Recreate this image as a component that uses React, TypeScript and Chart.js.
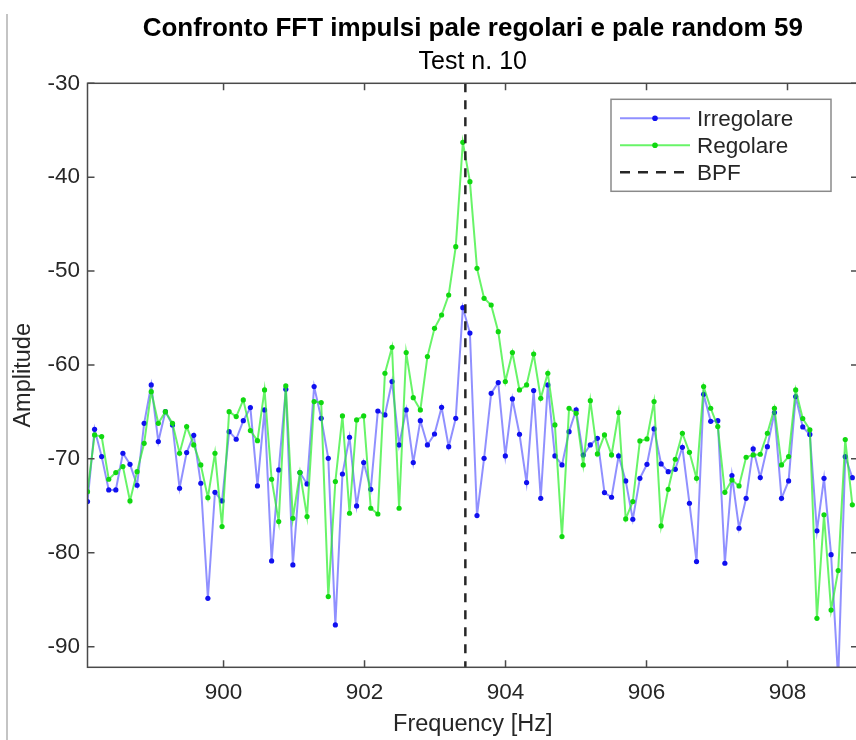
import React, { useEffect, useRef } from 'react';
import { Chart, registerables } from 'chart.js';

Chart.register(...registerables);

// ---- data -----------------------------------------------------------------
const TITLE = 'Confronto FFT impulsi pale regolari e pale random 59';
const SUBTITLE = 'Test n. 10';
const X_LABEL = 'Frequency [Hz]';
const Y_LABEL = 'Amplitude';
const SERIES_NAMES = ['Irregolare', 'Regolare', 'BPF'];

// FFT bin grid (start frequency and bin width)
const FREQ_START = 898.07;
const FREQ_STEP = 0.10046;

const IRREGOLARE = [
  -74.55, -66.85, -69.76, -73.31, -73.31, -69.4, -70.58, -72.81, -66.21, -62.13,
  -68.16, -64.97, -66.39, -73.13, -69.33, -67.49, -72.6, -84.85, -73.56, -74.48,
  -67.1, -67.91, -65.93, -64.54, -72.88, -64.79, -80.87, -71.18, -62.59, -81.3,
  -71.46, -72.67, -62.3, -65.68, -69.94, -87.69, -71.61, -67.7, -75.01, -70.4,
  -73.24, -64.9, -65.32, -61.77, -68.52, -64.79, -70.4, -65.93, -68.52, -67.35,
  -64.51, -68.7, -65.68, -53.9, -56.6, -76.04, -69.94, -63.02, -61.88, -69.69,
  -63.62, -67.38, -72.53, -62.73, -74.2, -62.13, -69.69, -70.65, -67.1, -64.79,
  -69.6, -68.52, -67.81, -73.59, -74.09, -69.69, -72.35, -76.43, -72.07, -70.58,
  -66.81, -70.54, -71.36, -71.11, -68.77, -74.73, -80.94, -63.12, -66.0, -65.93,
  -81.12, -71.78, -77.39, -74.2, -68.94, -71.99, -68.7, -65.07, -74.2, -72.35,
  -63.37, -66.6, -67.4, -77.66, -72.07, -80.2, -93.5, -69.77, -72.0,
];

const REGOLARE = [
  -73.49, -67.45, -67.63, -72.17, -71.46, -70.82, -74.48, -71.36, -68.34, -62.84,
  -66.21, -64.97, -66.21, -69.4, -66.56, -68.52, -70.65, -74.13, -69.4, -77.21,
  -64.97, -65.5, -63.72, -66.99, -68.06, -62.66, -72.17, -76.68, -62.23, -76.33,
  -71.46, -76.15, -63.9, -64.01, -84.67, -72.42, -65.43, -75.79, -65.85, -65.43,
  -75.26, -75.87, -60.88, -58.12, -75.26, -58.68, -63.48, -64.79, -59.11, -56.1,
  -54.68, -52.55, -47.4, -36.29, -40.48, -49.71, -52.9, -53.61, -56.45, -61.77,
  -58.68, -62.66, -62.13, -58.83, -63.55, -60.88, -66.39, -78.28, -64.61, -65.14,
  -70.65, -63.8, -69.47, -67.45, -69.58, -65.07, -76.4, -74.55, -68.09, -67.88,
  -63.9, -77.14, -73.24, -70.04, -67.27, -69.3, -72.07, -62.3, -64.61, -66.56,
  -73.56, -72.25, -72.88, -69.83, -69.58, -69.51, -67.27, -64.61, -70.65, -69.76,
  -62.66, -65.7, -66.9, -86.98, -75.95, -86.1, -81.9, -67.95, -74.9,
];

const BPF = 903.43;

const X_MIN = 898.07;
const X_MAX = 909.0;
const Y_MIN = -92.2;
const Y_MAX = -30;
const X_TICKS = [900, 902, 904, 906, 908];
const Y_TICKS = [-30, -40, -50, -60, -70, -80, -90];

// ---- styles ---------------------------------------------------------------
const FONT = '"Liberation Sans", Arial, Helvetica, sans-serif';
const TEXT_COLOR = '#262626';
const AXIS_COLOR = '#4a4a4a';
const BLUE_LINE = 'rgba(70, 70, 255, 0.6)';
const BLUE_MARK = '#1010f0';
const GREEN_LINE = 'rgba(40, 240, 40, 0.7)';
const GREEN_MARK = '#10d810';
const BPF_COLOR = '#262626';

const W = 856;
const H = 740;
const CANVAS_W = 862; // the axes box extends just past the visible frame

const framePlugin = {
  id: 'matlabFrame',
  afterDraw(chart: any) {
    const { ctx, chartArea, scales } = chart;
    const { left, right, top, bottom } = chartArea;
    const xs = scales.x;
    const ys = scales.y;
    ctx.save();
    // axes box
    ctx.strokeStyle = AXIS_COLOR;
    ctx.lineWidth = 1.5;
    ctx.strokeRect(left, top, right - left, bottom - top);
    // inward ticks on all four sides
    const tl = 7;
    ctx.beginPath();
    for (const v of X_TICKS) {
      const px = xs.getPixelForValue(v);
      ctx.moveTo(px, bottom);
      ctx.lineTo(px, bottom - tl);
      ctx.moveTo(px, top);
      ctx.lineTo(px, top + tl);
    }
    for (const v of Y_TICKS) {
      const py = ys.getPixelForValue(v);
      ctx.moveTo(left, py);
      ctx.lineTo(left + tl, py);
      ctx.moveTo(right, py);
      ctx.lineTo(right - tl, py);
    }
    ctx.stroke();

    // legend (north-east)
    const boxW = 220;
    const boxH = 92;
    const bx = right - 27 - boxW;
    const by = top + 16;
    ctx.fillStyle = '#ffffff';
    ctx.fillRect(bx, by, boxW, boxH);
    ctx.strokeStyle = '#8a8a8a';
    ctx.lineWidth = 1.5;
    ctx.strokeRect(bx, by, boxW, boxH);
    const rows = [by + 19, by + 46, by + 73];
    const x0 = bx + 9;
    const x1 = bx + 79;
    const xm = (x0 + x1) / 2;
    const entries = [
      { line: BLUE_LINE, mark: BLUE_MARK, dash: [] as number[] },
      { line: GREEN_LINE, mark: GREEN_MARK, dash: [] as number[] },
      { line: BPF_COLOR, mark: null, dash: [10, 8] },
    ];
    entries.forEach((e, i) => {
      const yy = rows[i];
      ctx.beginPath();
      ctx.setLineDash(e.dash);
      ctx.strokeStyle = e.line;
      ctx.lineWidth = e.mark ? 2 : 2.5;
      ctx.moveTo(x0, yy);
      ctx.lineTo(x1, yy);
      ctx.stroke();
      ctx.setLineDash([]);
      if (e.mark) {
        ctx.beginPath();
        ctx.fillStyle = e.mark;
        ctx.arc(xm, yy, 2.8, 0, Math.PI * 2);
        ctx.fill();
      }
      ctx.fillStyle = TEXT_COLOR;
      ctx.font = `22.5px ${FONT}`;
      ctx.textAlign = 'left';
      ctx.textBaseline = 'middle';
      ctx.fillText(SERIES_NAMES[i], bx + 86, yy + 1);
    });
    ctx.restore();
  },
};

export default function App() {
  const canvasRef = useRef<HTMLCanvasElement | null>(null);

  useEffect(() => {
    const canvas = canvasRef.current;
    if (!canvas) return;
    const freq = IRREGOLARE.map((_, i) => FREQ_START + i * FREQ_STEP);
    const chart = new Chart(canvas, {
      type: 'line',
      data: {
        datasets: [
          {
            label: SERIES_NAMES[2],
            data: [
              { x: BPF, y: Y_MAX },
              { x: BPF, y: Y_MIN },
            ],
            borderColor: BPF_COLOR,
            borderWidth: 2.5,
            borderDash: [9, 8],
            pointRadius: 0,
            order: 0,
            clip: 0,
          } as any,
          {
            label: SERIES_NAMES[1],
            data: REGOLARE.map((v, i) => ({ x: freq[i], y: v })),
            borderColor: GREEN_LINE,
            borderWidth: 2,
            pointRadius: 2.6,
            pointBorderWidth: 0,
            pointBackgroundColor: GREEN_MARK,
            tension: 0,
            order: 1,
            clip: 0,
          } as any,
          {
            label: SERIES_NAMES[0],
            data: IRREGOLARE.map((v, i) => ({ x: freq[i], y: v })),
            borderColor: BLUE_LINE,
            borderWidth: 2,
            pointRadius: 2.6,
            pointBorderWidth: 0,
            pointBackgroundColor: BLUE_MARK,
            tension: 0,
            order: 2,
            clip: 0,
          } as any,
        ],
      },
      options: {
        responsive: false,
        animation: false,
        devicePixelRatio: 1,
        layout: { padding: 0 },
        events: [],
        plugins: {
          legend: { display: false },
          tooltip: { enabled: false },
          title: {
            display: true,
            text: TITLE,
            fullSize: false,
            color: '#000000',
            font: { family: FONT, size: 26, weight: 'bold', lineHeight: 1.2 },
            padding: { top: 13.4, bottom: 0 },
          },
          subtitle: {
            display: true,
            text: SUBTITLE,
            fullSize: false,
            color: '#000000',
            font: { family: FONT, size: 25, weight: 'normal', lineHeight: 1.2 },
            padding: { top: 2.4, bottom: 6.3 },
          },
        },
        scales: {
          x: {
            type: 'linear',
            min: X_MIN,
            max: X_MAX,
            afterBuildTicks: (s: any) => {
              s.ticks = X_TICKS.map((v) => ({ value: v }));
            },
            afterFit: (s: any) => {
              s.height = 72.7;
            },
            grid: { display: false, drawTicks: false },
            border: { display: false },
            ticks: {
              color: TEXT_COLOR,
              font: { family: FONT, size: 22.5, lineHeight: 1.2 },
              padding: 11.5,
              maxRotation: 0,
              autoSkip: false,
              callback: (v: any) => String(v),
            },
            title: {
              display: true,
              text: X_LABEL,
              color: TEXT_COLOR,
              font: { family: FONT, size: 23.5, lineHeight: 1.2 },
              padding: { top: 0, bottom: 1.5 },
            },
          },
          y: {
            type: 'linear',
            min: Y_MIN,
            max: Y_MAX,
            afterBuildTicks: (s: any) => {
              s.ticks = Y_TICKS.map((v) => ({ value: v }));
            },
            afterFit: (s: any) => {
              s.width = 87.5;
            },
            grid: { display: false, drawTicks: false },
            border: { display: false },
            ticks: {
              color: TEXT_COLOR,
              font: { family: FONT, size: 22.5, lineHeight: 1.2 },
              padding: 7.5,
              autoSkip: false,
              callback: (v: any) => String(v),
            },
            title: {
              display: true,
              text: Y_LABEL,
              color: TEXT_COLOR,
              font: { family: FONT, size: 23.5, lineHeight: 1.2 },
              padding: { top: 9, bottom: 0 },
            },
          },
        },
      },
      plugins: [framePlugin],
    } as any);
    return () => chart.destroy();
  }, []);

  return (
    <div style={{ position: 'absolute', left: 0, top: 0, width: W, height: H, overflow: 'hidden', background: '#fff' }}>
      <div
        style={{
          position: 'absolute',
          left: 6,
          top: 14,
          width: 0,
          height: H - 14,
          borderLeft: '2px solid #c4c4c4',
        }}
      />
      <canvas ref={canvasRef} width={CANVAS_W} height={H} style={{ width: CANVAS_W, height: H, display: 'block' }} />
    </div>
  );
}
